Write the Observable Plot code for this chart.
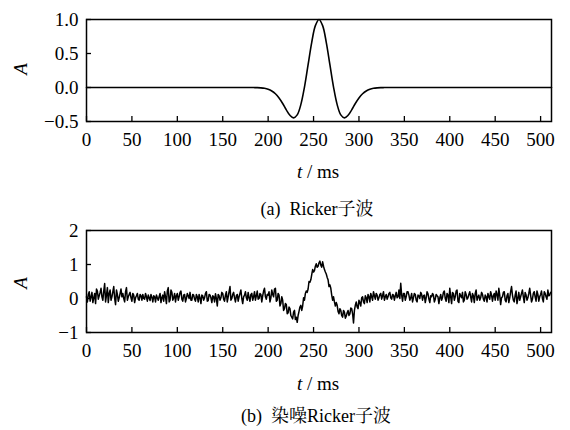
<!DOCTYPE html>
<html>
<head>
<meta charset="utf-8">
<script src="https://cdn.jsdelivr.net/npm/d3@7"></script>
<script src="https://cdn.jsdelivr.net/npm/@observablehq/plot@0.6"></script>
<style>
  body { margin: 0; background: white; }
  #wrap { position: relative; width: 570px; height: 430px; background: white; color: black; }
  .lbl { position: absolute; transform: translate(-50%, -50%); white-space: nowrap; font-family: 'Liberation Serif', 'Noto Serif CJK SC', serif; }
  .ax { font-size: 19px; }
  .cap { font-size: 18px; }
  .svgbox { position: absolute; left: 0; }
  svg text { font-family: 'Liberation Serif', serif !important; }
</style>
</head>
<body>
<div id="wrap">
  <div id="p1" class="svgbox" style="top:0px"></div>
  <div id="p2" class="svgbox" style="top:218px"></div>
  <div class="lbl ax" style="left:21px; top:69px; transform: translate(-50%,-50%) rotate(-90deg); font-style: italic;">A</div>
  <div class="lbl ax" style="left:21px; top:283px; transform: translate(-50%,-50%) rotate(-90deg); font-style: italic;">A</div>
  <div class="lbl ax" style="left:318px; top:172px;"><i>t</i> / ms</div>
  <div class="lbl ax" style="left:318px; top:384px;"><i>t</i> / ms</div>
  <div class="lbl cap" style="left:317px; top:207px;">(a)&nbsp; Ricker子波</div>
  <div class="lbl cap" style="left:316px; top:414px;">(b)&nbsp; 染噪Ricker子波</div>
</div>
<script>
// Panel (a): clean Ricker wavelet
const rickerT = [0, 180, 184, 188, 192, 196, 200, 204, 208, 212, 216, 220, 224, 228, 232, 236, 240, 244, 248, 252, 256,
  260, 264, 268, 272, 276, 280, 284, 288, 292, 296, 300, 304, 308, 312, 316, 320, 324, 328, 332, 512];
const rickerA = [0, 0.000, -0.001, -0.002, -0.005, -0.012, -0.026, -0.051, -0.092, -0.154, -0.235, -0.328, -0.409, -0.446, -0.403, -0.252, 0.006, 0.335, 0.665, 0.910, 1.000,
  0.910, 0.665, 0.335, 0.006, -0.252, -0.403, -0.446, -0.409, -0.328, -0.235, -0.154, -0.092, -0.051, -0.026, -0.012, -0.005, -0.002, -0.001, 0.000, 0];

// Panel (b): noisy Ricker wavelet, estimated samples at even ms (0..510)
const noisyEven = [
  0.05, 0.12, -0.08, 0.18, 0.02, -0.15, 0.22, 0.08, 0.30, -0.05, 0.44, 0.10, -0.12, 0.25, 0.05, 0.35, -0.18, 0.12, 0.02, 0.28,
  0.15, -0.10, 0.32, 0.05, 0.18, -0.08, 0.10, 0.02, 0.15, -0.05, 0.08, 0.12, -0.02, 0.05, 0.10, -0.06, 0.04, 0.08, -0.10, 0.02,
  0.06, -0.12, 0.10, 0.20, -0.15, 0.32, -0.05, 0.18, 0.02, -0.10, 0.15, 0.05, 0.22, -0.08, 0.12, 0.00, 0.08, 0.18, -0.05, 0.10,
  -0.08, 0.05, 0.12, -0.15, 0.08, 0.02, 0.20, -0.06, 0.10, -0.12, 0.05, 0.14, -0.22, 0.08, 0.02, 0.15, -0.08, 0.20, 0.05, 0.35,
  0.00, 0.18, -0.10, 0.12, 0.05, 0.25, -0.15, 0.10, 0.02, 0.18, -0.08, 0.15, 0.05, -0.05, 0.22, 0.00, 0.12, 0.08, 0.30, -0.02,
  0.10, -0.10, 0.25, 0.05, 0.30, -0.05, 0.10, -0.15, -0.05, -0.30, -0.18, -0.42, -0.30, -0.55, -0.40, -0.62, -0.70, -0.38, -0.20, -0.22,
  -0.05, 0.22, 0.28, 0.48, 0.70, 0.78, 0.95, 0.92, 1.05, 0.98, 1.08, 0.85, 0.72, 0.55, 0.40, 0.10, 0.05, -0.22, -0.20, -0.45,
  -0.35, -0.55, -0.40, -0.52, -0.35, -0.45, -0.30, -0.72, -0.20, -0.25, -0.05, -0.22, 0.05, -0.15, 0.02, 0.12, -0.10, 0.05, 0.20, -0.02,
  0.10, 0.02, 0.15, 0.08, -0.05, 0.12, 0.05, 0.18, -0.02, 0.10, 0.08, 0.02, 0.25, 0.45, -0.08, 0.15, 0.05, 0.20, -0.05, 0.15,
  0.02, 0.12, -0.10, 0.08, 0.18, -0.05, 0.10, 0.02, 0.14, -0.12, 0.05, 0.10, -0.02, 0.08, -0.15, 0.12, 0.03, 0.22, -0.08, 0.10,
  0.30, -0.15, 0.15, 0.05, 0.25, -0.12, 0.08, 0.18, -0.05, 0.12, 0.02, 0.20, -0.10, 0.08, 0.15, -0.05, 0.10, 0.02, 0.12, -0.08,
  0.05, 0.15, -0.02, 0.10, 0.08, -0.05, 0.12, 0.30, -0.18, 0.05, 0.20, -0.10, 0.15, 0.02, 0.35, -0.05, 0.10, -0.15, 0.18, 0.05,
  0.25, -0.12, 0.10, 0.02, 0.30, -0.10, 0.15, 0.05, 0.22, -0.08, 0.12, 0.00, 0.20, 0.05, 0.25, 0.10
];
// estimated samples at odd ms (1..511)
const noisyOdd = [
  -0.10, 0.20, 0.05, -0.12, 0.15, 0.28, -0.02, 0.18, 0.05, 0.22, -0.10, 0.32, 0.15, -0.05, 0.20, 0.00, 0.25, -0.08, 0.15, 0.05,
  0.00, 0.20, -0.05, 0.12, 0.02, 0.15, -0.12, 0.08, -0.02, 0.12, -0.05, 0.00, 0.15, -0.08, 0.02, 0.12, -0.10, 0.05, 0.10, -0.05,
  0.15, 0.02, -0.08, 0.05, 0.22, -0.10, 0.25, -0.05, 0.15, 0.08, -0.05, 0.18, -0.02, 0.10, -0.10, 0.15, 0.00, -0.05, 0.12, -0.02,
  0.12, -0.10, 0.02, 0.10, -0.05, 0.15, -0.08, 0.12, 0.02, 0.08, -0.10, 0.00, 0.12, -0.05, 0.18, -0.02, 0.10, -0.10, 0.20, -0.05,
  0.12, 0.02, 0.08, -0.08, 0.15, 0.00, 0.05, 0.20, -0.05, 0.02, 0.12, -0.05, 0.20, 0.08, -0.02, 0.15, -0.10, 0.22, 0.05, 0.12,
  0.20, 0.02, 0.12, 0.28, -0.08, 0.15, -0.22, 0.05, -0.35, -0.15, -0.45, -0.25, -0.50, -0.60, -0.35, -0.55, -0.50, -0.25, -0.35, 0.02,
  0.15, 0.18, 0.50, 0.55, 0.85, 0.82, 1.02, 0.95, 1.10, 0.92, 0.95, 0.78, 0.62, 0.35, 0.30, -0.05, -0.10, -0.12, -0.38, -0.30,
  -0.50, -0.35, -0.58, -0.42, -0.50, -0.28, -0.45, -0.35, -0.10, -0.30, -0.12, 0.02, -0.10, 0.08, -0.12, 0.05, 0.15, -0.05, 0.08, 0.15,
  -0.05, 0.12, -0.02, 0.20, 0.05, -0.02, 0.15, 0.02, 0.12, -0.05, 0.18, 0.05, 0.00, 0.10, 0.15, -0.05, 0.20, 0.10, 0.02, -0.10,
  0.15, -0.05, 0.10, 0.00, 0.12, 0.08, -0.12, 0.20, -0.02, 0.08, 0.15, -0.10, 0.12, 0.05, 0.02, -0.05, 0.18, 0.00, 0.15, -0.12,
  0.05, 0.18, -0.05, 0.22, -0.08, 0.15, 0.02, -0.10, 0.20, -0.02, 0.12, 0.05, 0.15, -0.12, 0.25, 0.05, -0.05, 0.18, -0.02, 0.10,
  -0.10, 0.05, 0.20, -0.08, 0.15, 0.22, -0.05, 0.10, 0.02, 0.18, -0.05, 0.08, -0.12, 0.20, 0.10, -0.10, 0.22, 0.00, -0.05, 0.15,
  0.05, 0.18, -0.05, 0.15, 0.10, -0.02, 0.20, -0.08, 0.12, 0.05, 0.22, -0.10, 0.15, -0.02, 0.08, 0.18
];

const xTicks = [0, 50, 100, 150, 200, 250, 300, 350, 400, 450, 500];
const yTicksA = [-0.5, 0, 0.5, 1.0];
const yTicksB = [-1, 0, 1, 2];

const dataA = rickerT.map((t, i) => ({t, A: rickerA[i]}));
const dataB = noisyEven.flatMap((a, i) => [{t: 2 * i, A: a}, {t: 2 * i + 1, A: noisyOdd[i]}]);

const style = "font-family: 'Liberation Serif', serif; font-size: 19px; color: black; background: white; overflow: visible;";

function panel(data, yDomain, yTicks, yFmt, height, mTop, mBottom, sw, curve) {
  return Plot.plot({
    width: 570, height, marginLeft: 86, marginRight: 19, marginTop: mTop, marginBottom: mBottom,
    style,
    x: {domain: [0, 512]},
    y: {domain: yDomain},
    marks: [
      Plot.line(data, {x: "t", y: "A", stroke: "black", strokeWidth: sw, curve}),
      Plot.axisX(xTicks, {tickSize: 0, tickPadding: 11, tickFormat: d => String(d), label: null}),
      Plot.axisX(xTicks, {tickSize: -5, tickFormat: () => "", strokeWidth: 1.3, label: null}),
      Plot.axisY(yTicks, {tickSize: 0, tickPadding: 8, tickFormat: yFmt, label: null}),
      Plot.axisY(yTicks, {tickSize: -5, tickFormat: () => "", strokeWidth: 1.3, label: null}),
      Plot.frame({stroke: "black", strokeWidth: 1.5})
    ]
  });
}

document.getElementById("p1").append(panel(dataA, [-0.5, 1], yTicksA, d3.format(".1f"), 190, 19, 69, 1.6, "catmull-rom"));
document.getElementById("p2").append(panel(dataB, [-1, 2], yTicksB, d => String(d).replace("-", "\u2212"), 212, 12, 98, 1.5, "linear"));
</script>
</body>
</html>
